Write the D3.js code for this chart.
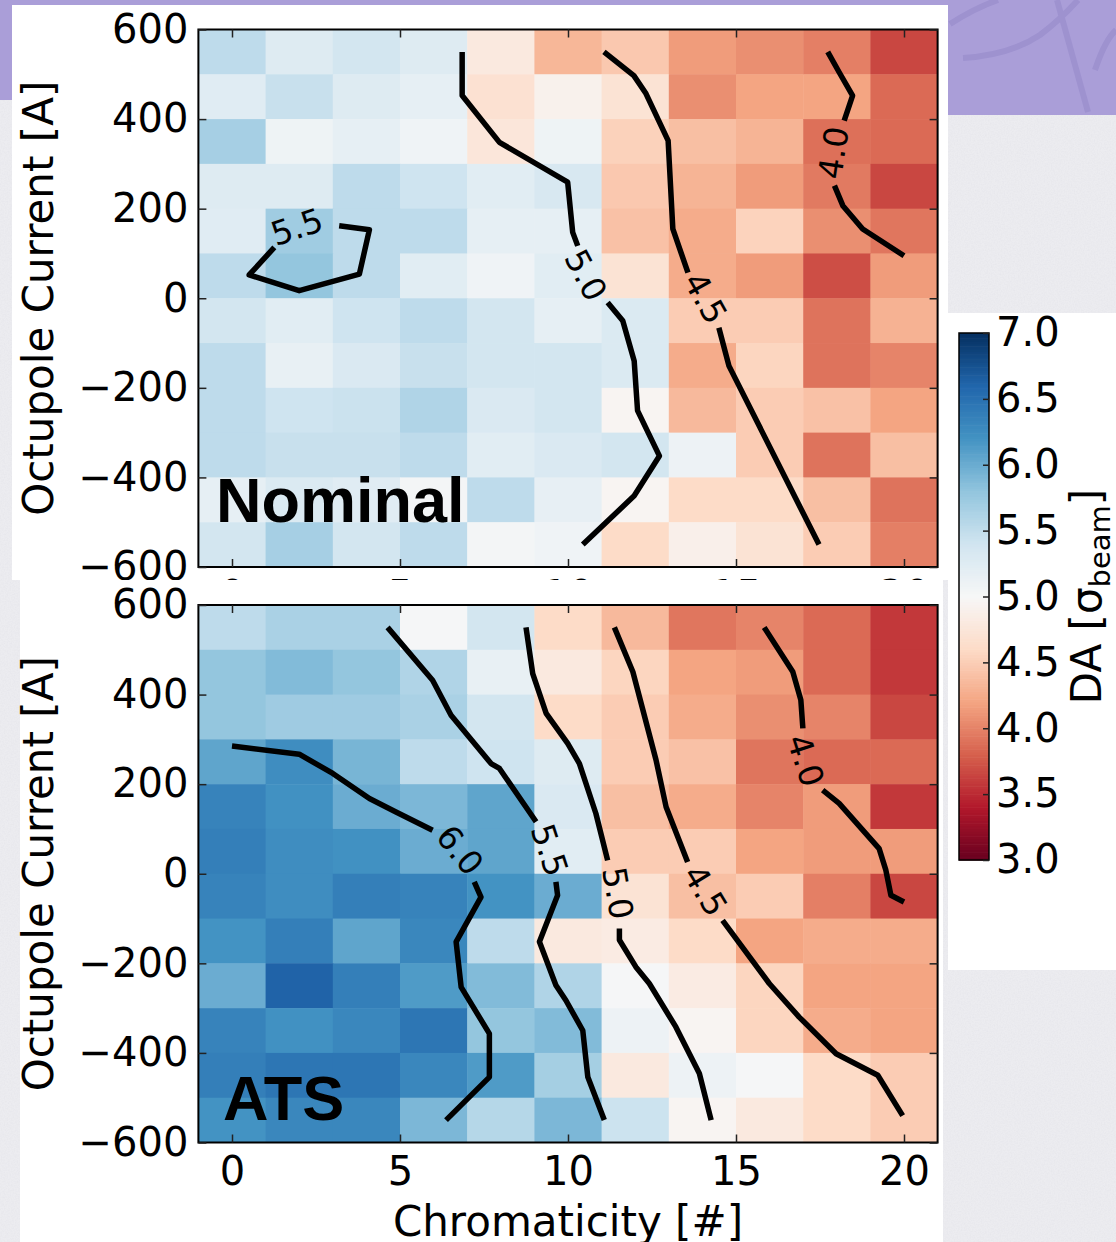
<!DOCTYPE html>
<html><head><meta charset="utf-8">
<script src="https://cdn.jsdelivr.net/npm/d3@7"></script>
<style>html,body{margin:0;padding:0;background:#ececf0;} svg{display:block}</style>
</head><body>
<svg id="chart" width="1116" height="1242"></svg>
<script>
// ---------------- data ----------------
const chroma = [0, 2, 4, 6, 8, 10, 12, 14, 16, 18, 20];
const current = [550, 450, 350, 250, 150, 50, -50, -150, -250, -350, -450, -550];
const xTicks = [0, 5, 10, 15, 20];
const yTicks = [600, 400, 200, 0, -200, -400, -600];
const cbTicks = [7.0, 6.5, 6.0, 5.5, 5.0, 4.5, 4.0, 3.5, 3.0];
const contourLevelsNominal = ["5.5", "5.0", "4.5", "4.0"];
const contourLevelsATS = ["6.0", "5.5", "5.0", "4.5", "4.0"];

// DA values, rows from current=550 down to -550, columns chroma 0..20
const nominalDA = [
  [5.52,5.26,5.38,5.26,4.80,4.33,4.46,4.15,4.07,3.98,3.66],
  [5.24,5.46,5.26,5.18,4.69,4.91,4.71,4.07,4.20,4.20,3.86],
  [5.67,5.09,5.18,5.08,4.76,5.09,4.53,4.39,4.31,3.89,3.86],
  [5.26,5.26,5.52,5.41,5.23,5.33,4.46,4.31,4.15,3.95,3.66],
  [5.24,5.71,5.52,5.52,5.18,5.18,4.41,4.25,4.54,4.07,3.93],
  [5.52,5.79,5.52,5.23,5.08,5.23,4.71,4.25,4.15,3.70,4.15],
  [5.38,5.23,5.41,5.52,5.38,5.18,5.29,4.49,4.49,3.91,4.30],
  [5.52,5.16,5.31,5.46,5.38,5.38,5.29,4.25,4.56,3.91,4.01],
  [5.52,5.41,5.44,5.61,5.31,5.38,4.96,4.35,4.49,4.41,4.20],
  [5.52,5.46,5.46,5.52,5.23,5.31,5.38,5.11,4.49,3.91,4.39],
  [5.18,5.30,5.24,5.04,5.52,5.17,4.96,4.61,4.61,4.39,3.91],
  [5.38,5.67,5.38,5.52,5.04,5.08,4.61,4.89,4.71,4.49,3.98]
];
const atsDA = [
  [5.52,5.65,5.65,5.02,5.38,4.61,4.35,3.93,4.01,3.86,3.58],
  [5.79,5.88,5.79,5.61,5.16,4.80,4.56,4.20,4.15,3.86,3.58],
  [5.79,5.72,5.72,5.65,5.38,4.61,4.49,4.25,4.07,4.01,3.66],
  [6.06,6.25,5.93,5.52,5.41,5.26,4.49,4.41,3.92,3.86,3.86],
  [6.34,6.22,6.00,5.91,6.06,5.31,4.39,4.25,4.01,4.15,3.58],
  [6.38,6.25,6.22,6.00,6.06,5.23,4.49,4.49,4.20,4.15,4.15],
  [6.34,6.25,6.38,6.34,6.20,6.00,4.71,4.39,4.49,3.98,3.66],
  [6.20,6.38,6.06,6.31,5.52,4.80,4.83,4.61,4.20,4.25,4.25],
  [6.00,6.62,6.38,6.14,5.88,5.61,5.02,4.83,4.56,4.20,4.20],
  [6.34,6.22,6.31,6.46,5.79,5.88,5.11,4.96,4.56,4.25,4.20],
  [6.38,6.46,6.46,6.31,6.14,5.68,4.80,5.11,5.02,4.61,4.49],
  [6.20,6.31,6.31,5.91,5.58,5.91,5.43,4.96,4.80,4.61,4.49]
];

// contour polylines in data coordinates [chromaticity, current]; label sits in the gap
const nominal55 = [[[3.19,162],[4.09,153],[3.79,54],[2.0,17],[0.51,52],[1.26,113.5]]];
const nominal55Label = [1.93,160];
const nominal50 = [[[6.85,550],[6.85,452.5],[7.96,348],[9.99,259],[10.14,147],[10.29,117]],
                   [[11.18,-9.4],[11.63,-50],[11.97,-140],[12.07,-251],[12.72,-352],[11.97,-441],[10.44,-550]]];
const nominal50Label = [10.54,52];
const nominal45 = [[[11.07,550],[11.96,497],[12.32,457],[12.98,352],[13.12,155],[13.57,57]],
                   [[14.49,-66],[14.79,-151],[17.47,-550]]];
const nominal45Label = [14.1,1];
const nominal40 = [[[17.73,550],[18.07,504.6],[18.47,452.5],[18.22,396.6]],
                   [[17.93,251.4],[18.18,206.7],[18.77,154.6],[20,95]]];
const nominal40Label = [17.89,325];

const ats60 = [[[0,285],[2.0,267],[3.0,224],[4.09,168],[4.88,138],[5.97,97]],
               [[7.21,-18],[7.41,-52],[6.67,-152],[6.82,-253],[7.66,-357],[7.66,-454],[6.37,-550]]];
const ats60Label = [6.79,53];
const ats55 = [[[4.63,550],[5.97,432],[6.52,354],[7.71,246],[7.96,235],[9.05,116]],
               [[9.64,-18],[9.69,-48],[9.15,-152],[9.64,-249],[9.94,-283],[10.44,-350],[10.59,-454],[11.08,-550]]];
const ats55Label = [9.46,53];
const ats50 = [[[8.75,550],[8.95,447],[9.35,358],[9.99,291],[10.34,246],[10.83,134.5],[11.18,30]],
               [[11.53,-122],[11.53,-148],[12.02,-208],[12.42,-245],[13.21,-342],[13.91,-446],[14.26,-550]]];
const ats50Label = [11.49,-43];
const ats45 = [[[11.38,550],[11.93,451],[12.62,254],[12.92,149],[13.56,26]],
               [[14.6,-104],[15.99,-245],[16.88,-320],[17.98,-402],[19.22,-450],[19.96,-540]]];
const ats45Label = [14.1,-37];
const ats40 = [[[15.84,550],[16.69,451],[16.93,388],[16.99,324.5]],
               [[17.58,186.6],[18.07,157],[19.26,56],[19.46,8],[19.61,-48],[20,-63]]];
const ats40Label = [17.08,253];

const nominalContours = [
  {level: contourLevelsNominal[0], segs: nominal55, label: nominal55Label},
  {level: contourLevelsNominal[1], segs: nominal50, label: nominal50Label},
  {level: contourLevelsNominal[2], segs: nominal45, label: nominal45Label},
  {level: contourLevelsNominal[3], segs: nominal40, label: nominal40Label}
];
const atsContours = [
  {level: contourLevelsATS[0], segs: ats60, label: ats60Label},
  {level: contourLevelsATS[1], segs: ats55, label: ats55Label},
  {level: contourLevelsATS[2], segs: ats50, label: ats50Label},
  {level: contourLevelsATS[3], segs: ats45, label: ats45Label},
  {level: contourLevelsATS[4], segs: ats40, label: ats40Label}
];

// ---------------- drawing ----------------
const svg = d3.select("#chart");
const FONT = "DejaVu Sans, Verdana, sans-serif";
const rdbu = ["#67001f","#b2182b","#d6604d","#f4a582","#fddbc7","#f7f7f7","#d1e5f0","#92c5de","#4393c3","#2166ac","#053061"];
const color = d3.scaleLinear().domain(d3.range(11).map(i => 3 + i * 0.4)).range(rdbu).clamp(true);

const defs = svg.append("defs");
const f = defs.append("filter").attr("id","noise").attr("x",0).attr("y",0).attr("width","100%").attr("height","100%");
f.append("feTurbulence").attr("type","fractalNoise").attr("baseFrequency","0.7").attr("numOctaves",2).attr("seed",4);
f.append("feColorMatrix").attr("type","matrix")
  .attr("values","0 0 0 0 0.55  0 0 0 0 0.55  0 0 0 0 0.62  0.5 0 0 0 -0.18");

// background
svg.append("rect").attr("width",1116).attr("height",1242).attr("fill","#ececf0");
svg.append("rect").attr("width",1116).attr("height",1242).attr("filter","url(#noise)").attr("opacity",0.5);
svg.append("path").attr("d","M0,0H1116V115H948V100H0Z").attr("fill","#aa9ed8");
const deco = svg.append("g").attr("fill","none").attr("stroke","#9a8ecd").attr("stroke-width",6).attr("opacity",0.75);
deco.append("path").attr("d","M950,24 Q975,8 998,0");
deco.append("path").attr("d","M963,58 Q1010,55 1040,35 Q1060,20 1078,0");
deco.append("path").attr("d","M1057,0 L1088,112");
deco.append("path").attr("d","M1095,70 Q1105,40 1116,30");

const xScale = d3.scaleLinear().domain([-1, 21]).range([198.4, 937.6]);

function drawPanel(data, contours, y0, y1, name, nameX, nameY) {
  const yScale = d3.scaleLinear().domain([-600, 600]).range([y1, y0]);
  const g = svg.append("g");
  // cells
  data.forEach((row, r) => {
    g.selectAll(null).data(row).enter().append("rect")
      .attr("x", (d, c) => xScale(chroma[c] - 1))
      .attr("width", (d, c) => xScale(chroma[c] + 1) - xScale(chroma[c] - 1) + 0.5)
      .attr("y", yScale(current[r] + 50))
      .attr("height", yScale(current[r] - 50) - yScale(current[r] + 50) + 0.5)
      .attr("fill", d => color(d));
  });
  // contours
  const line = d3.line().x(d => xScale(d[0])).y(d => yScale(d[1]));
  contours.forEach(ct => {
    ct.segs.forEach(s => {
      g.append("path").attr("d", line(s)).attr("fill","none").attr("stroke","#000")
        .attr("stroke-width",5.5).attr("stroke-linejoin","round");
    });
    const a = ct.segs[0][ct.segs[0].length - 1];
    const b = (ct.segs[1] || ct.segs[0])[0];
    let ang = Math.atan2(yScale(b[1]) - yScale(a[1]), xScale(b[0]) - xScale(a[0])) * 180 / Math.PI;
    if (ang > 90) ang -= 180;
    if (ang <= -90) ang += 180;
    g.append("text")
      .attr("transform", `translate(${xScale(ct.label[0])},${yScale(ct.label[1])}) rotate(${ang})`)
      .attr("text-anchor","middle").attr("dy","0.36em")
      .attr("font-family",FONT).attr("font-size",33).attr("fill","#000")
      .text(ct.level);
  });
  // panel name
  g.append("text").attr("x",nameX).attr("y",nameY)
    .attr("font-family","Liberation Sans, Arial, sans-serif").attr("font-weight","bold")
    .attr("font-size",63).attr("fill","#000").text(name);
  // frame
  g.append("rect").attr("x",xScale(-1)).attr("y",y0)
    .attr("width",xScale(21)-xScale(-1)).attr("height",y1-y0)
    .attr("fill","none").attr("stroke","#000").attr("stroke-width",2);
  // axes
  const styleAxis = sel => {
    sel.select(".domain").remove();
    sel.selectAll(".tick line").attr("stroke","#222").attr("stroke-width",1.5);
    sel.attr("font-family",FONT).attr("font-size",40);
    sel.selectAll(".tick text").attr("fill","#000");
  };
  g.append("g").attr("transform",`translate(${xScale(-1)},0)`)
    .call(d3.axisLeft(yScale).tickValues(yTicks).tickSize(-8).tickPadding(10)).call(styleAxis);
  g.append("g").attr("transform",`translate(${xScale(21)},0)`)
    .call(d3.axisRight(yScale).tickValues(yTicks).tickSize(-8).tickFormat("")).call(styleAxis);
  g.append("g").attr("transform",`translate(0,${y0})`)
    .call(d3.axisTop(xScale).tickValues(xTicks).tickSize(-8).tickFormat("")).call(styleAxis);
  g.append("g").attr("transform",`translate(0,${y1})`)
    .call(d3.axisBottom(xScale).tickValues(xTicks).tickSize(-8).tickPadding(14)).call(styleAxis);
  // y label
  g.append("text").attr("transform",`translate(53,${(y0+y1)/2}) rotate(-90)`)
    .attr("text-anchor","middle").attr("font-family",FONT).attr("font-size",42).attr("fill","#000")
    .text("Octupole Current [A]");
}

// top panel
svg.append("rect").attr("x",12).attr("y",5).attr("width",936).attr("height",575).attr("fill","#fff");
drawPanel(nominalDA, nominalContours, 29.5, 567, "Nominal", 216, 522);
// bottom panel
svg.append("rect").attr("x",20).attr("y",580).attr("width",923).attr("height",662).attr("fill","#fff");
drawPanel(atsDA, atsContours, 605, 1142.5, "ATS", 223, 1120);
svg.append("text").attr("x",xScale(10)).attr("y",1236).attr("text-anchor","middle")
  .attr("font-family",FONT).attr("font-size",42).attr("fill","#000").text("Chromaticity [#]");

// colorbar
svg.append("rect").attr("x",948).attr("y",313).attr("width",168).attr("height",657).attr("fill","#fff");
const cbY = d3.scaleLinear().domain([3, 7]).range([860, 333]);
const cbSteps = d3.range(3, 7, 0.02);
svg.append("g").selectAll("rect").data(cbSteps).enter().append("rect")
  .attr("x",959).attr("width",30)
  .attr("y", d => cbY(d + 0.02)).attr("height", d => cbY(d) - cbY(d + 0.02) + 0.6)
  .attr("fill", d => color(d + 0.01));
svg.append("rect").attr("x",959).attr("y",333).attr("width",30).attr("height",527)
  .attr("fill","none").attr("stroke","#000").attr("stroke-width",1.5);
svg.append("g").attr("transform","translate(989,0)")
  .call(d3.axisRight(cbY).tickValues(cbTicks).tickSize(-6).tickPadding(7).tickFormat(d3.format(".1f")))
  .call(sel => {
    sel.select(".domain").remove();
    sel.selectAll(".tick line").attr("stroke","#222").attr("stroke-width",1.5);
    sel.attr("font-family",FONT).attr("font-size",40);
    sel.selectAll(".tick text").attr("fill","#000");
  });
const cbl = svg.append("text").attr("transform",`translate(1101,${(333+860)/2}) rotate(-90)`)
  .attr("text-anchor","middle").attr("font-family",FONT).attr("font-size",42).attr("fill","#000");
cbl.append("tspan").text("DA [σ");
cbl.append("tspan").attr("font-size",29).attr("dy",9).text("beam");
cbl.append("tspan").attr("dy",-9).text("]");
</script>
</body></html>
